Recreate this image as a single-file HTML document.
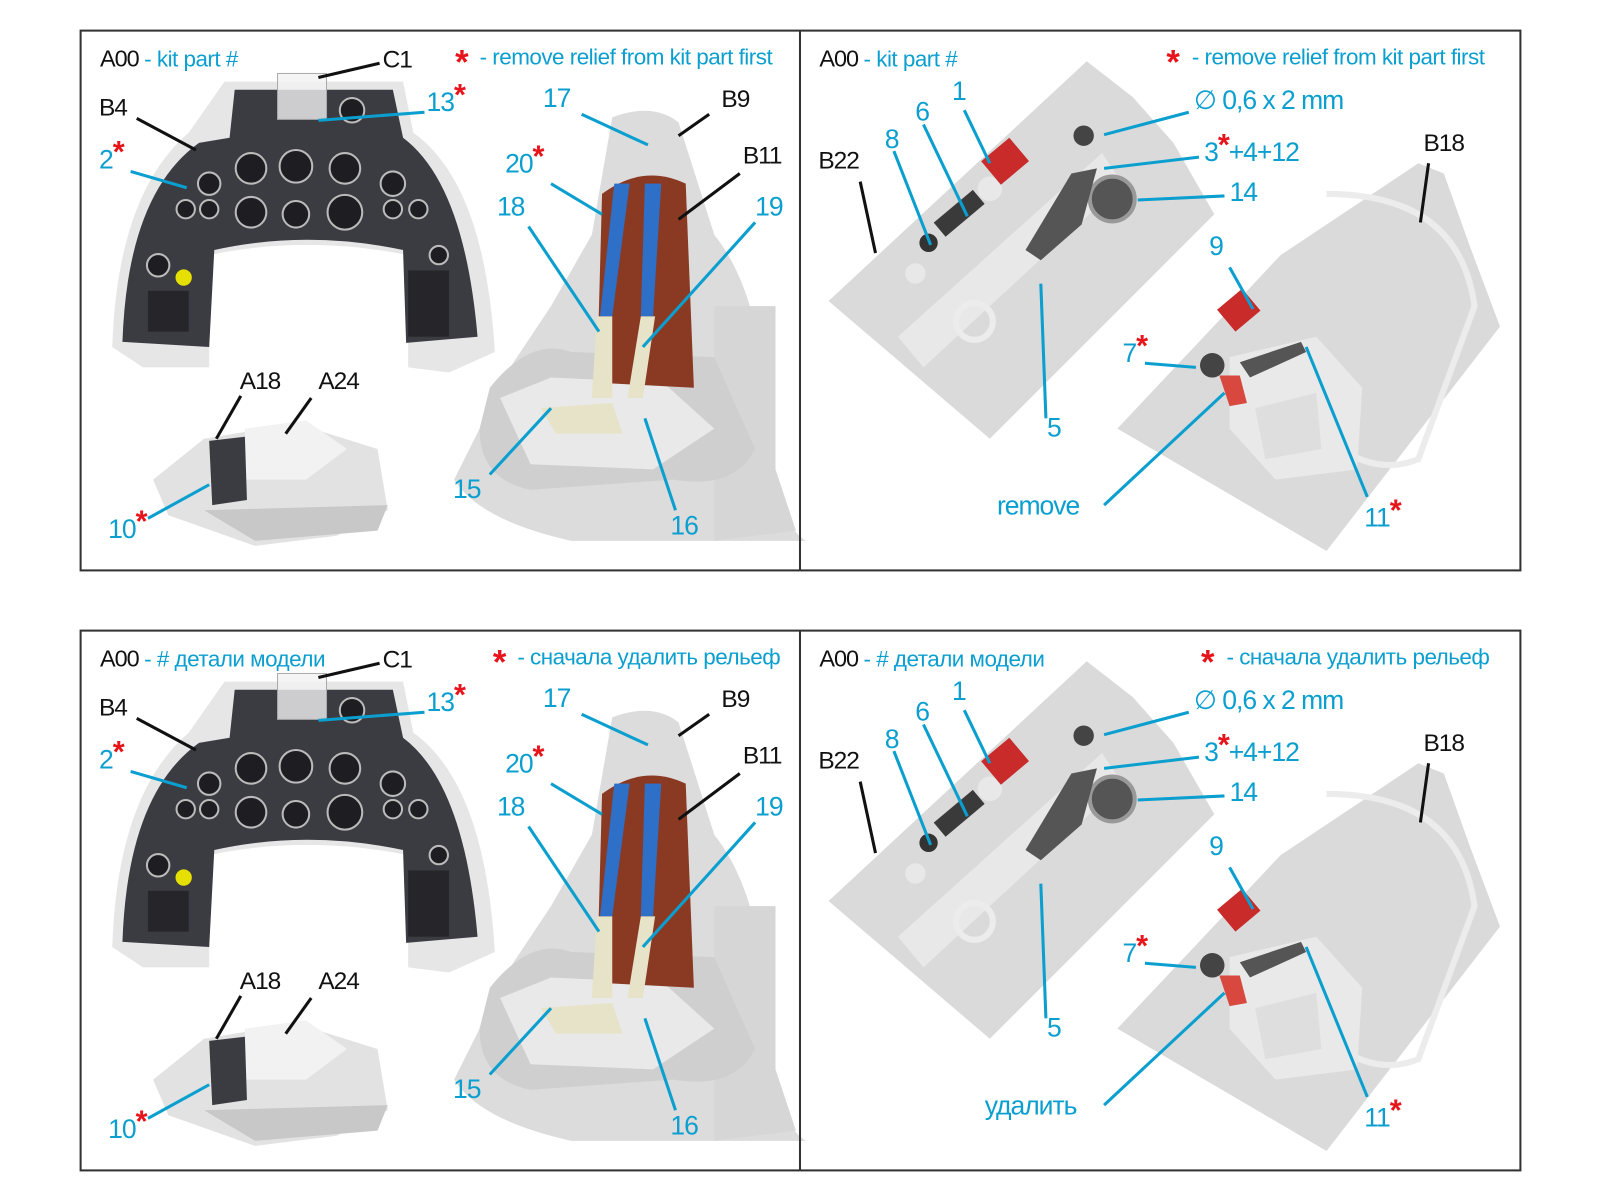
<!DOCTYPE html>
<html><head><meta charset="utf-8"><style>
html,body{margin:0;padding:0;background:#fff;}
svg{display:block}
text{font-family:"Liberation Sans","DejaVu Sans",sans-serif;}
.b{fill:#0b9fd0;font-size:26px;letter-spacing:-1px}
.k{fill:#111;font-size:24px;letter-spacing:-1px}
.h{font-size:22px;letter-spacing:-0.5px}
.r{fill:#e8141b}
.a{fill:#e8141b;font-size:30px;font-weight:bold}
.lb{stroke:#0b9fd0;stroke-width:3;fill:none}
.lk{stroke:#111;stroke-width:3;fill:none}
</style></head><body>
<svg width="1600" height="1200" viewBox="0 0 1568 1176" preserveAspectRatio="none" xmlns="http://www.w3.org/2000/svg">
<defs>
<g id="art">
 <path d="M220,80 L395,80 L405,130 Q475,180 485,345 L440,365 L400,360 L400,250 Q300,230 205,250 L205,360 L140,360 L110,340 Q115,190 185,130 Z" fill="#e6e6e6"/>
 <path d="M230,88 L385,88 L395,135 Q455,180 468,330 L398,336 L395,245 Q300,225 210,245 L205,340 L120,335 Q125,190 195,140 L225,135 Z" fill="#3b3b42"/>
 <g fill="#1e1e22" stroke="#bbb" stroke-width="2">
  <circle cx="246" cy="165" r="15"/><circle cx="290" cy="163" r="16"/><circle cx="338" cy="165" r="15"/>
  <circle cx="246" cy="208" r="15"/><circle cx="290" cy="210" r="13"/><circle cx="338" cy="208" r="17"/>
  <circle cx="205" cy="180" r="11"/><circle cx="182" cy="205" r="9"/><circle cx="205" cy="205" r="9"/>
  <circle cx="385" cy="180" r="12"/><circle cx="385" cy="205" r="9"/><circle cx="410" cy="205" r="9"/>
  <circle cx="155" cy="260" r="11"/><circle cx="430" cy="250" r="9"/><circle cx="345" cy="108" r="12"/>
 </g>
 <circle cx="180" cy="272" r="8" fill="#e5e000"/>
 <rect x="145" y="285" width="40" height="40" fill="#26262a"/><rect x="400" y="265" width="40" height="65" fill="#26262a"/>
 <rect x="272" y="72" width="48" height="45" fill="#f2f2f2" stroke="#aaa" fill-opacity=".8"/>
 <path d="M150,470 L200,430 L290,415 L370,440 L380,500 L330,525 L250,535 L165,505 Z" fill="#e2e2e2"/>
 <path d="M240,420 L300,412 L340,440 L300,470 L240,470 Z" fill="#f2f2f2"/>
 <path d="M200,500 L380,495 L370,520 L250,530 Z" fill="#c8c8c8"/>
 <path d="M205,432 L240,428 L242,490 L208,495 Z" fill="#3b3b42"/>
 <path d="M600,115 Q640,100 665,120 L700,230 Q740,280 750,380 L760,470 Q770,520 790,530 L560,530 Q470,510 445,470 L470,420 L500,360 L540,300 L580,230 Z" fill="#dcdcdc"/>
 <path d="M700,300 L760,300 L760,460 L780,520 L700,530 Z" fill="#d6d6d6"/>
 <path d="M480,380 Q520,330 560,345 L700,350 L740,440 Q720,480 660,470 L520,480 Q470,470 470,420 Z" fill="#cfcfcf"/>
 <path d="M490,390 L540,370 L650,375 L700,420 L640,460 L520,455 Z" fill="#e9e9e9"/>
 <path d="M590,190 Q630,160 672,180 L680,380 L585,375 Z" fill="#8a3a22"/>
 <path d="M602,180 L617,180 L600,310 L588,310 Z" fill="#2e6fc8"/>
 <path d="M632,180 L648,180 L640,310 L628,310 Z" fill="#2e6fc8"/>
 <path d="M585,310 L600,310 L600,390 L580,390 Z" fill="#e6e3c8"/>
 <path d="M628,310 L642,310 L630,390 L615,390 Z" fill="#e6e3c8"/>
 <path d="M530,400 L600,395 L610,425 L545,425 Z" fill="#e6e3c8"/>
 <path d="M1065,60 L1110,95 L1150,140 L1190,210 L970,430 L812,295 Z" fill="#dadada"/>
 <path d="M880,330 L1080,150 L1100,180 L905,360 Z" fill="#e8e8e8"/>
 <circle cx="970" cy="185" r="12" fill="#e8e8e8"/><circle cx="897" cy="268" r="10" fill="#e8e8e8"/>
 <circle cx="955" cy="315" r="18" fill="none" stroke="#ececec" stroke-width="6"/>
 <rect x="967" y="143" width="36" height="30" fill="#c92a2a" transform="rotate(-40 985 158)"/>
 <rect x="915" y="200" width="50" height="18" fill="#3a3a3a" transform="rotate(-40 940 209)"/>
 <circle cx="910" cy="238" r="9" fill="#333"/>
 <circle cx="1090" cy="195" r="22" fill="#555" stroke="#999" stroke-width="4"/>
 <path d="M1050,170 L1075,165 L1060,220 L1020,255 L1005,245 Z" fill="#555"/>
 <circle cx="1062" cy="133" r="10" fill="#444"/>
 <path d="M1390,160 L1415,170 L1440,240 L1470,320 L1300,540 L1095,420 L1255,250 Z" fill="#dadada"/>
 <path d="M1300,190 Q1430,190 1445,300 L1390,450 Q1340,470 1290,420" fill="none" stroke="#ececec" stroke-width="6"/>
 <path d="M1205,350 L1290,330 L1335,380 L1330,460 L1250,470 L1205,420 Z" fill="#e9e9e9"/>
 <path d="M1230,400 L1290,385 L1295,440 L1240,450 Z" fill="#dedede"/>
 <rect x="1198" y="290" width="32" height="28" fill="#c92a2a" transform="rotate(-40 1214 304)"/>
 <circle cx="1188" cy="358" r="12" fill="#444"/>
 <path d="M1195,368 L1215,368 L1222,395 L1205,398 Z" fill="#d9483e"/>
 <path d="M1215,355 L1275,335 L1280,345 L1225,370 Z" fill="#555"/>
</g>
</defs>

<use href="#art"/>
<use href="#art" transform="translate(0,588)"/>

<rect x="79" y="30" width="1411" height="529" fill="none" stroke="#333" stroke-width="2"/>
<line x1="784" y1="30" x2="784" y2="559" stroke="#333" stroke-width="2"/>
<rect x="79" y="618" width="1411" height="529" fill="none" stroke="#333" stroke-width="2"/>
<line x1="784" y1="618" x2="784" y2="1147" stroke="#333" stroke-width="2"/>

<g id="leadT">
<path class="lk" d="M372,62 L312,76"/><path class="lk" d="M134,116 L192,147"/>
<path class="lb" d="M416,110 L312,118"/><path class="lb" d="M128,168 L183,184"/>
<path class="lk" d="M236,388 L212,430"/><path class="lk" d="M305,390 L280,425"/>
<path class="lb" d="M145,508 L205,475"/>
<path class="lb" d="M570,112 L635,142"/><path class="lk" d="M665,133 L695,112"/>
<path class="lb" d="M540,180 L590,210"/><path class="lk" d="M665,215 L725,170"/>
<path class="lb" d="M518,222 L587,325"/><path class="lb" d="M740,218 L630,340"/>
<path class="lb" d="M480,465 L540,400"/><path class="lb" d="M662,500 L632,410"/>
<path class="lk" d="M843,178 L858,248"/><path class="lb" d="M876,148 L912,240"/>
<path class="lb" d="M905,122 L948,212"/><path class="lb" d="M945,108 L970,160"/>
<path class="lb" d="M1165,110 L1082,132"/><path class="lb" d="M1175,154 L1082,165"/>
<path class="lb" d="M1200,192 L1115,196"/><path class="lb" d="M1025,410 L1020,278"/>
<path class="lk" d="M1400,160 L1392,218"/><path class="lb" d="M1205,262 L1228,303"/>
<path class="lb" d="M1122,356 L1172,360"/><path class="lb" d="M1082,495 L1200,385"/>
<path class="lb" d="M1340,487 L1280,340"/>
</g>
<use href="#leadT" transform="translate(0,588)"/>

<g id="numsT">
<text x="375" y="66" class="k">C1</text><text x="97" y="113" class="k">B4</text>
<text x="418" y="109" class="b">13<tspan class="a" dy="-6">*</tspan></text>
<text x="97" y="165" class="b">2<tspan class="a" dy="-6">*</tspan></text>
<text x="235" y="381" class="k">A18</text><text x="312" y="381" class="k">A24</text>
<text x="106" y="527" class="b">10<tspan class="a" dy="-6">*</tspan></text>
<text x="532" y="105" class="b">17</text><text x="707" y="105" class="k">B9</text>
<text x="495" y="169" class="b">20<tspan class="a" dy="-6">*</tspan></text>
<text x="728" y="160" class="k">B11</text><text x="487" y="211" class="b">18</text><text x="740" y="211" class="b">19</text>
<text x="444" y="488" class="b">15</text><text x="657" y="524" class="b">16</text>
<text x="1170" y="107" class="b">∅ 0,6 x 2 mm</text>
<text x="933" y="98" class="b">1</text><text x="897" y="118" class="b">6</text><text x="867" y="145" class="b">8</text>
<text x="802" y="165" class="k">B22</text>
<text x="1180" y="158" class="b">3<tspan class="a" dy="-6">*</tspan><tspan dy="6">+4+12</tspan></text>
<text x="1205" y="197" class="b">14</text><text x="1395" y="148" class="k">B18</text>
<text x="1185" y="250" class="b">9</text>
<text x="1100" y="355" class="b">7<tspan class="a" dy="-6">*</tspan></text>
<text x="1026" y="428" class="b">5</text>
<text x="1337" y="516" class="b">11<tspan class="a" dy="-6">*</tspan></text>
</g>

<text x="98" y="65" class="k" style="font-size:23px">A00 <tspan class="b" style="font-size:22px;letter-spacing:-0.5px">- kit part #</tspan></text>
<text x="446" y="72" class="a" style="font-size:34px">*</text><text x="470" y="63" class="b h">- remove relief from kit part first</text>
<text x="803" y="65" class="k" style="font-size:23px">A00 <tspan class="b" style="font-size:22px;letter-spacing:-0.5px">- kit part #</tspan></text>
<text x="1143" y="72" class="a" style="font-size:34px">*</text><text x="1168" y="63" class="b h">- remove relief from kit part first</text>
<text x="977" y="504" class="b">remove</text>

<g transform="translate(0,588)">
<text x="375" y="66" class="k">C1</text><text x="97" y="113" class="k">B4</text>
<text x="418" y="109" class="b">13<tspan class="a" dy="-6">*</tspan></text>
<text x="97" y="165" class="b">2<tspan class="a" dy="-6">*</tspan></text>
<text x="235" y="381" class="k">A18</text><text x="312" y="381" class="k">A24</text>
<text x="106" y="527" class="b">10<tspan class="a" dy="-6">*</tspan></text>
<text x="532" y="105" class="b">17</text><text x="707" y="105" class="k">B9</text>
<text x="495" y="169" class="b">20<tspan class="a" dy="-6">*</tspan></text>
<text x="728" y="160" class="k">B11</text><text x="487" y="211" class="b">18</text><text x="740" y="211" class="b">19</text>
<text x="444" y="488" class="b">15</text><text x="657" y="524" class="b">16</text>
<text x="1170" y="107" class="b">∅ 0,6 x 2 mm</text>
<text x="933" y="98" class="b">1</text><text x="897" y="118" class="b">6</text><text x="867" y="145" class="b">8</text>
<text x="802" y="165" class="k">B22</text>
<text x="1180" y="158" class="b">3<tspan class="a" dy="-6">*</tspan><tspan dy="6">+4+12</tspan></text>
<text x="1205" y="197" class="b">14</text><text x="1395" y="148" class="k">B18</text>
<text x="1185" y="250" class="b">9</text>
<text x="1100" y="355" class="b">7<tspan class="a" dy="-6">*</tspan></text>
<text x="1026" y="428" class="b">5</text>
<text x="1337" y="516" class="b">11<tspan class="a" dy="-6">*</tspan></text>
<text x="98" y="65" class="k" style="font-size:23px">A00 <tspan class="b" style="font-size:22px;letter-spacing:-0.5px">- # детали модели</tspan></text>
<text x="483" y="72" class="a" style="font-size:34px">*</text><text x="507" y="63" class="b h">- сначала удалить рельеф</text>
<text x="803" y="65" class="k" style="font-size:23px">A00 <tspan class="b" style="font-size:22px;letter-spacing:-0.5px">- # детали модели</tspan></text>
<text x="1177" y="72" class="a" style="font-size:34px">*</text><text x="1202" y="63" class="b h">- сначала удалить рельеф</text>
<text x="965" y="504" class="b">удалить</text>
</g>
</svg>
</body></html>
